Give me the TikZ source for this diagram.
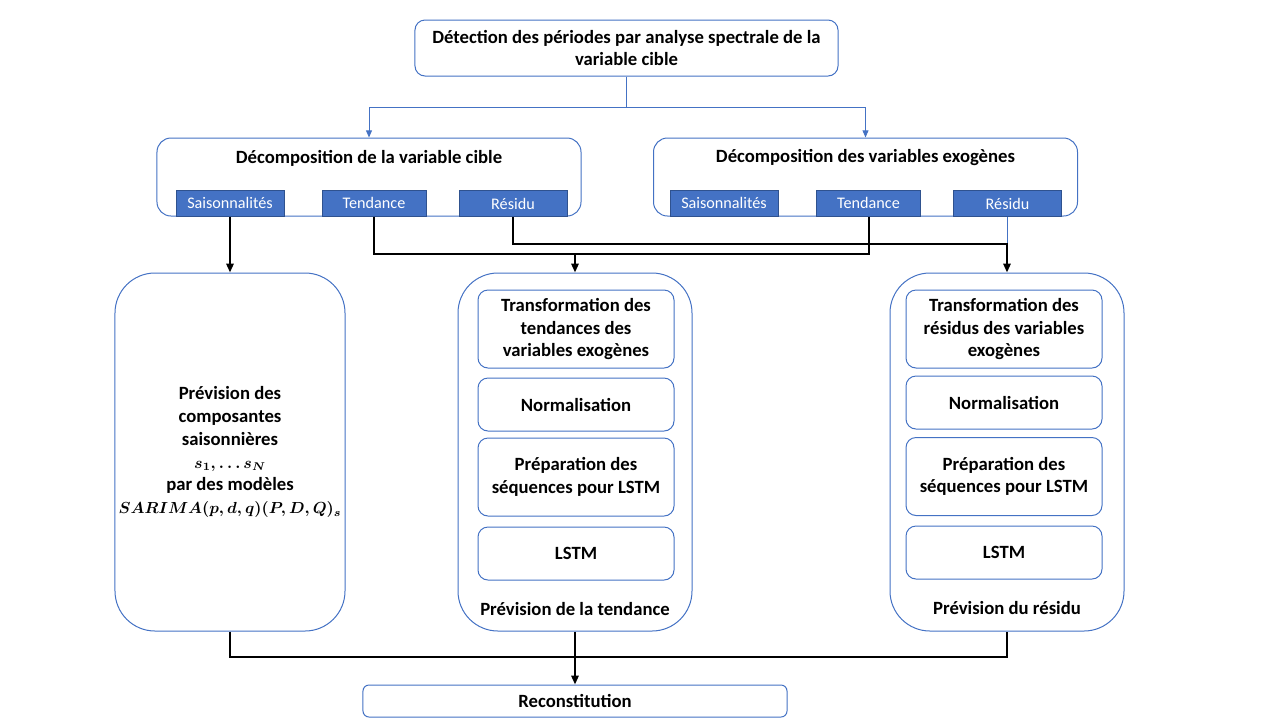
\documentclass[tikz,border=0pt]{standalone}
\usepackage{fix-cm}
\usepackage{amsmath}
\usepackage{fontspec}
\setmainfont{Carlito}
\usetikzlibrary{shapes,arrows.meta,positioning}

\definecolor{bleu}{HTML}{4472C4}
\definecolor{bleufonce}{HTML}{2F528F}

\newcommand{\petitmath}[1]{{\fontsize{11.4}{16.3}\selectfont$\boldsymbol{#1}$}}

\tikzset{
  boite/.style={draw=bleu, line width=0.25mm, rounded corners=2.5mm, fill=white, align=center,
    font=\bfseries\fontsize{13.3}{16}\selectfont},
  titre/.style={font=\bfseries\fontsize{13.3}{16}\selectfont, align=center},
  composante/.style={draw=bleufonce, line width=0.25mm, fill=bleu, text=white, inner sep=0pt,
    minimum height=6.5mm, font=\fontsize{11.5}{13}\selectfont},
  grandeboite/.style={draw=bleu, line width=0.25mm, rounded corners=10mm, minimum height=89.5mm},
  fleche/.style={-{Triangle[length=2.2mm,width=1.8mm]}, line width=0.5mm},
  liaison/.style={line width=0.5mm},
  lienbleu/.style={draw=bleu, line width=0.25mm},
  flechebleue/.style={lienbleu, -{Triangle[length=1.8mm,width=1.5mm]}}
}

\begin{document}
\begin{tikzpicture}[x=0.25mm, y=-0.25mm]
\useasboundingbox (0,0) rectangle (1280,720);

% Detection des periodes
\node[boite, minimum width=105.75mm, minimum height=14mm, font=\bfseries\fontsize{13.3}{15}\selectfont]
  (detection) at (626.5,48) {Détection des périodes par analyse spectrale de la\\variable cible};

% Decompositions
\node[boite, rounded corners=3.5mm, minimum width=106mm, minimum height=19.5mm] (decompcible) at (369,177) {};
\node[titre] (titrecible) at (369,158) {Décomposition de la variable cible};
\node[boite, rounded corners=3.5mm, minimum width=106mm, minimum height=19.5mm] (decompexo) at (865.5,177) {};
\node[titre] (titreexo) at (865.5,158) {Décomposition des variables exogènes};

% Composantes de la variable cible
\node[composante, minimum width=27mm] (csais) at (230,203) {Saisonnalités};
\node[composante, minimum width=26mm] (ctend) at (374,203) {Tendance};
\node[composante, minimum width=27mm] (cres) at (513,203.5) {Résidu};

% Composantes des variables exogenes
\node[composante, minimum width=27mm] (xsais) at (724,203) {Saisonnalités};
\node[composante, minimum width=26mm] (xtend) at (868.5,203) {Tendance};
\node[composante, minimum width=27mm] (xres) at (1007.5,203.5) {Résidu};

% Prevision des saisonnalites
\node[grandeboite, minimum width=57.5mm] (prevsais) at (230,452) {};
\node[titre, font=\bfseries\fontsize{13.3}{16.3}\selectfont] (textesais) at (230,452)
  {Prévision des\\composantes\\saisonnières\\\petitmath{s_1, \ldots s_N}\\par des modèles\\
   \petitmath{SARIMA(p,d,q)(P,D,Q)_s}};

% Prevision de la tendance
\node[grandeboite, minimum width=58.5mm] (prevtend) at (575,452) {};
\node[boite, minimum width=49mm, minimum height=19.5mm] (ttransfo) at (576,329)
  {Transformation des\\tendances des\\variables exogènes};
\node[boite, minimum width=49mm, minimum height=13.25mm] (tnorm) at (576,404.5) {Normalisation};
\node[boite, minimum width=49mm, minimum height=19.5mm] (tprep) at (576,477)
  {Préparation des\\séquences pour LSTM};
\node[boite, minimum width=49mm, minimum height=13.25mm] (tlstm) at (576,553.5) {LSTM};
\node[titre] (titretend) at (575,609) {Prévision de la tendance};

% Prevision du residu
\node[grandeboite, minimum width=58.5mm] (prevres) at (1007,452) {};
\node[boite, minimum width=49mm, minimum height=19.5mm] (rtransfo) at (1004,329)
  {Transformation des\\résidus des variables\\exogènes};
\node[boite, minimum width=49mm, minimum height=13.25mm] (rnorm) at (1004,402.5) {Normalisation};
\node[boite, minimum width=49mm, minimum height=19.5mm] (rprep) at (1004,476.5)
  {Préparation des\\séquences pour LSTM};
\node[boite, minimum width=49mm, minimum height=13.25mm] (rlstm) at (1004,552.5) {LSTM};
\node[titre] (titreres) at (1007,608) {Prévision du résidu};

% Reconstitution
\node[boite, rounded corners=1.5mm, minimum width=106mm, minimum height=8mm] (reconstitution) at (575,701)
  {Reconstitution};

% Liaisons bleues
\coordinate (embranchement) at (626.5,107);
\draw[lienbleu] (detection.south) -- (embranchement);
\draw[flechebleue] (embranchement) -| (decompcible.north);
\draw[flechebleue] (embranchement) -| (decompexo.north);

% Liaisons vers les previsions
\coordinate (bustend) at (575,254);
\coordinate (busres) at (1007,244);
\draw[fleche] (csais.south) -- (prevsais.north);
\draw[liaison] (ctend.south) |- (xtend.south |- bustend) -- (xtend.south);
\draw[fleche] (bustend) -- (prevtend.north);
\draw[lienbleu] (xres.south) -- (xres.south |- busres);
\draw[fleche] (cres.south) |- (busres) -- (prevres.north);

% Reconstitution
\coordinate (busfin) at (575,657);
\draw[liaison] (prevsais.south) |- (busfin) -| (prevres.south);
\draw[fleche] (prevtend.south) -- (reconstitution.north);
\end{tikzpicture}
\end{document}
